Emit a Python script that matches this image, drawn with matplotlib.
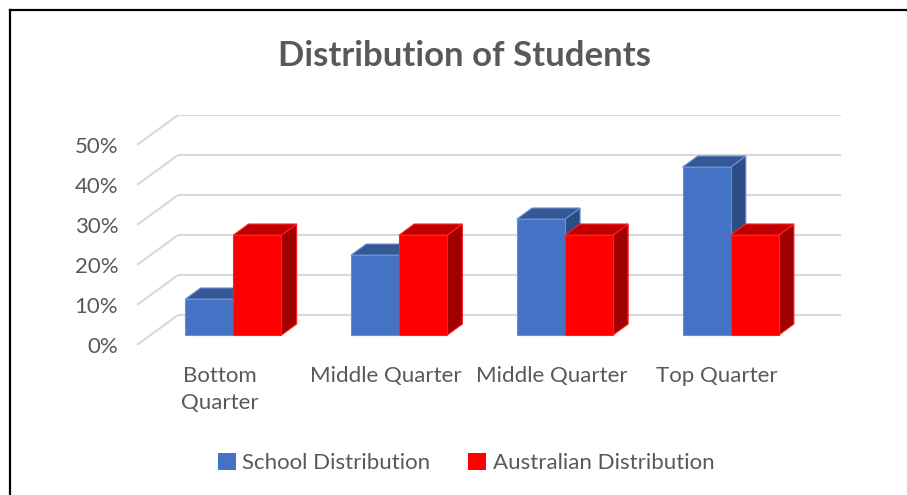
import matplotlib
matplotlib.use("Agg")
import matplotlib.pyplot as plt
from matplotlib.patches import Polygon, Patch

categories = ["Bottom\nQuarter", "Middle Quarter", "Middle Quarter", "Top Quarter"]
school = [9, 20, 29, 42]
australian = [25, 25, 25, 25]
series_names = ["School Distribution", "Australian Distribution"]
y_ticks = [0, 10, 20, 30, 40, 50]

plt.rcParams['font.family'] = ['Lato', 'DejaVu Sans']
text_gray = '#595959'

# oblique 3D look: full depth offset of the floor, in data units
DX = 0.2474
DY = 7.5
d_front, d_back = 0.33, 0.70
bar_w = 0.29

fig = plt.figure(figsize=(9.07, 4.95), dpi=100)
ax = fig.add_axes([137 / 907, 150 / 495, 704 / 907, 230 / 495])
ax.set_xlim(0, 704 / 165.75)
ax.set_ylim(0, 57.5)
xmax = ax.get_xlim()[1]

# walls: side diagonals + back gridlines
for lvl in y_ticks:
    ax.plot([0, DX], [lvl, lvl + DY], color='#D9D9D9', lw=1.5, solid_capstyle='butt', zorder=1)
    ax.plot([DX, xmax], [lvl + DY, lvl + DY], color='#D9D9D9', lw=1.5, solid_capstyle='butt', zorder=1)


def draw_box(x0, h, front, top, side, edge):
    ox0, oy0 = DX * d_front, DY * d_front
    ox1, oy1 = DX * d_back, DY * d_back
    x1 = x0 + bar_w
    faces = [
        ([(x1 + ox0, oy0), (x1 + ox1, oy1), (x1 + ox1, h + oy1), (x1 + ox0, h + oy0)], side),
        ([(x0 + ox0, h + oy0), (x1 + ox0, h + oy0), (x1 + ox1, h + oy1), (x0 + ox1, h + oy1)], top),
        ([(x0 + ox0, oy0), (x1 + ox0, oy0), (x1 + ox0, h + oy0), (x0 + ox0, h + oy0)], front),
    ]
    for pts, col in faces:
        ax.add_patch(Polygon(pts, closed=True, facecolor=col, edgecolor=edge, lw=0.8,
                             joinstyle='miter', zorder=3))


for i in range(len(categories)):
    draw_box(i + 0.5 - bar_w, school[i], '#4472C4', '#335895', '#2C4D86', '#6F90CF')
    draw_box(i + 0.5, australian[i], '#FF0000', '#C00000', '#A00000', '#FF2020')

ax.set_yticks(y_ticks)
ax.set_yticklabels([f'{v}%' for v in y_ticks], fontsize=16, color=text_gray)
ax.set_xticks([i + 0.5 for i in range(len(categories))])
ax.set_xticklabels(categories, fontsize=16, color=text_gray, linespacing=1.42, va='top')
ax.tick_params(axis='both', length=0)
ax.tick_params(axis='y', pad=13.5)
ax.tick_params(axis='x', pad=15)
for s in ax.spines.values():
    s.set_visible(False)
ax.patch.set_alpha(0)

fig.text(465 / 907, 1 - 56 / 495, 'Distribution of Students', ha='center', va='center',
         fontsize=25, fontweight='bold', color=text_gray)

handles = [Patch(facecolor='#4472C4', edgecolor='none'), Patch(facecolor='#FF0000', edgecolor='none')]
fig.legend(handles, series_names, loc='center', bbox_to_anchor=(466 / 907, 1 - 463 / 495), ncol=2,
           frameon=False, fontsize=16, labelcolor=text_gray, handlelength=0.8, handleheight=0.8,
           handletextpad=0.3, columnspacing=1.7)

# frame edges (left and top) as in the cropped screenshot
fig.add_artist(plt.Line2D([9.5 / 907, 9.5 / 907], [0, 1 - 10 / 495], color='black', lw=1.6))
fig.add_artist(plt.Line2D([9.5 / 907, 1], [1 - 10 / 495, 1 - 10 / 495], color='black', lw=1.6))

fig.savefig('out.png', dpi=100)
